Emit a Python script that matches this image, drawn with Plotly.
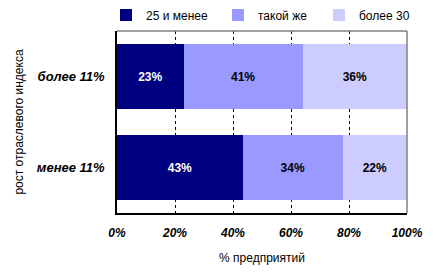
import plotly.graph_objects as go

categories = ["более 11%", "менее 11%"]
series_names = ["25 и менее", "такой же", "более 30"]
vals_25 = [23, 43.4]
vals_same = [41, 34.4]
vals_30 = [36, 22.2]
x_ticks = [0, 20, 40, 60, 80, 100]
x_tick_labels = ["0%", "20%", "40%", "60%", "80%", "100%"]

colors = ["#000080", "#9999FF", "#CCCCFF"]
text_colors = ["white", "black", "black"]
legend_ids = ["legend", "legend2", "legend3"]
legend_x_px = [106, 218, 319]
FONT = "Liberation Sans, Arial, sans-serif"

fig = go.Figure()
for name, vals, c, tc, lg in zip(series_names, [vals_25, vals_same, vals_30], colors, text_colors, legend_ids):
    fig.add_trace(go.Bar(
        y=categories, x=vals, name=name, orientation="h",
        marker=dict(color=c, line=dict(width=0)),
        texttemplate="%{x:.0f}%", textposition="inside", insidetextanchor="middle",
        textfont=dict(family=FONT, size=12, color=tc, weight="bold"),
        hoverinfo="skip", legend=lg,
    ))

legend_common = dict(orientation="h", xref="container", yref="container",
                     xanchor="left", y=1 - 15 / 279, yanchor="middle",
                     font=dict(family=FONT, size=12, color="black"),
                     itemwidth=30, bgcolor="rgba(0,0,0,0)")
legends = {}
for lg, xp in zip(legend_ids, legend_x_px):
    legends[lg] = dict(legend_common, x=xp / 439)

fig.update_layout(
    barmode="stack", bargap=0.275,
    width=439, height=279,
    margin=dict(l=117, r=32, t=31, b=66, autoexpand=False),
    paper_bgcolor="white", plot_bgcolor="white",
    font=dict(family=FONT, size=12, color="black"),
    showlegend=True,
    uniformtext=dict(minsize=8, mode="show"),
    **legends,
)
fig.update_xaxes(
    range=[0, 100], tickvals=x_ticks, ticktext=x_tick_labels,
    tickfont=dict(family=FONT, size=12, color="black", weight="bold", style="italic"),
    showgrid=True, gridcolor="black", gridwidth=1, griddash="3px,3px",
    showline=True, linecolor="black", linewidth=1.5, ticks="", ticklabelstandoff=8,
    zeroline=False,
    title=dict(text="% предприятий", font=dict(family=FONT, size=12, color="black"), standoff=14),
)
fig.update_yaxes(
    autorange="reversed", showgrid=False,
    tickfont=dict(family=FONT, size=13, color="black", weight="bold", style="italic"),
    showline=True, linecolor="black", linewidth=1.5, ticks="", ticklabelstandoff=8,
    title=dict(text="рост отраслевого индекса", font=dict(family=FONT, size=12, color="black"), standoff=11),
)
fig.add_shape(type="line", xref="paper", yref="paper", x0=0, x1=1, y0=1, y1=1,
              line=dict(color="#808080", width=1.5))
fig.add_shape(type="line", xref="paper", yref="paper", x0=1, x1=1, y0=0, y1=1,
              line=dict(color="#808080", width=1.5))

fig.write_html("out.html")
